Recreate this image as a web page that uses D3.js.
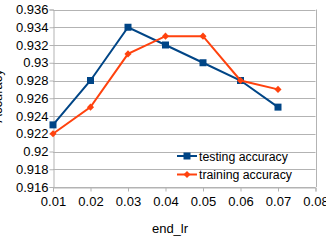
<html>
<head>
<script src="https://cdnjs.cloudflare.com/ajax/libs/d3/7.8.5/d3.min.js"></script>
<style>
  body { margin: 0; background: #fff; }
  text { font-family: "Liberation Sans", Arial, sans-serif; fill: #000; }
</style>
</head>
<body>
<div id="chart"></div>
<script>
  // values
  var endLr = [0.01, 0.02, 0.03, 0.04, 0.05, 0.06, 0.07];
  var testing = [0.923, 0.928, 0.934, 0.932, 0.930, 0.928, 0.925];
  var training = [0.922, 0.925, 0.931, 0.933, 0.933, 0.928, 0.927];
  var xTicks = [0.01, 0.02, 0.03, 0.04, 0.05, 0.06, 0.07, 0.08];
  var yTicks = [0.916, 0.918, 0.92, 0.922, 0.924, 0.926, 0.928, 0.93, 0.932, 0.934, 0.936];
  var seriesNames = ["testing accuracy", "training accuracy"];

  var W = 326, H = 243;
  var svg = d3.select("#chart").append("svg").attr("width", W).attr("height", H);

  var x = d3.scaleLinear().domain([0.01, 0.08]).range([53, 315.5]);
  var y = d3.scaleLinear().domain([0.916, 0.936]).range([187, 9.5]);

  //grid lines
  svg.selectAll("line.grid").data(yTicks).enter().append("line")
    .attr("x1", x(0.01)).attr("x2", x(0.08))
    .attr("y1", function (d) { return Math.round(y(d)) + 0.5; })
    .attr("y2", function (d) { return Math.round(y(d)) + 0.5; })
    .attr("stroke", "#b3b3b3").attr("stroke-width", 1);
  svg.append("line")
    .attr("x1", Math.round(x(0.08)) + 0.5).attr("x2", Math.round(x(0.08)) + 0.5)
    .attr("y1", y(0.936)).attr("y2", y(0.916))
    .attr("stroke", "#b3b3b3");

  //axes
  var fmt = function (d) { return String(+d.toFixed(3)); };
  var xAxis = svg.append("g").attr("transform", "translate(0," + (Math.round(y(0.916)) + 0.5) + ")")
    .call(d3.axisBottom(x).tickValues(xTicks).tickFormat(fmt).tickSize(4).tickPadding(5));
  var yAxis = svg.append("g").attr("transform", "translate(" + (Math.round(x(0.01)) + 0.5) + ",0)")
    .call(d3.axisLeft(y).tickValues(yTicks).tickFormat(fmt).tickSize(4).tickPadding(1));
  [xAxis, yAxis].forEach(function (g) {
    g.select(".domain").attr("stroke", "#b3b3b3");
    g.selectAll(".tick line").attr("stroke", "#b3b3b3");
    g.selectAll(".tick text").style("font-size", "13px").attr("fill", "#000");
  });

  //axis titles
  svg.append("text").attr("x", 170).attr("y", 233).attr("text-anchor", "middle")
    .style("font-size", "13px").text("end_lr");
  svg.append("text").attr("transform", "translate(2,96) rotate(-90)").attr("text-anchor", "middle")
    .style("font-size", "13px").text("Accuracy");

  //series: square markers for testing, diamond (rotated square) for training
  var series = [
    { name: seriesNames[0], values: testing, color: "#004586", size: 49, rot: 0 },
    { name: seriesNames[1], values: training, color: "#ff420e", size: 25, rot: 45 }
  ];
  var line = d3.line().x(function (d, i) { return x(endLr[i]); }).y(function (d) { return y(d); });

  series.forEach(function (s, k) {
    var sym = d3.symbol().type(d3.symbolSquare).size(s.size);
    svg.append("path").datum(s.values).attr("d", line)
      .attr("fill", "none").attr("stroke", s.color).attr("stroke-width", 2);
    svg.selectAll("path.m" + k).data(s.values).enter().append("path")
      .attr("d", sym)
      .attr("transform", function (d, i) { return "translate(" + x(endLr[i]) + "," + y(d) + ") rotate(" + s.rot + ")"; })
      .attr("fill", s.color);

    //legend
    var ly = 156 + k * 18.5;
    svg.append("line").attr("x1", 177).attr("x2", 197).attr("y1", ly).attr("y2", ly)
      .attr("stroke", s.color).attr("stroke-width", 2);
    svg.append("path").attr("d", sym)
      .attr("transform", "translate(187," + ly + ") rotate(" + s.rot + ")").attr("fill", s.color);
    svg.append("text").attr("x", 199).attr("y", ly + 4.5)
      .style("font-size", "12.3px").text(s.name);
  });
</script>
</body>
</html>
